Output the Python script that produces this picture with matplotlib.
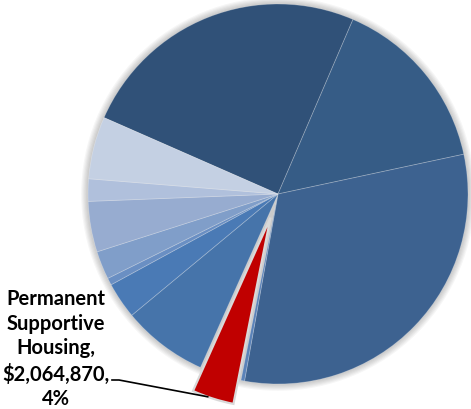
import numpy as np
import matplotlib
matplotlib.use('Agg')
import matplotlib.pyplot as plt
from matplotlib.patches import Circle

# funding amounts per program, in slice order (clockwise from upper left)
amounts = [14400000, 8790000, 18050000, 175000, 2064870, 4220000,
           1790000, 350000, 1390000, 2490000, 1100000, 3070000]
colors = ['#305178', '#365c86', '#3d6290', '#5a82b8', '#c00000', '#4674aa',
          '#4a7ab5', '#6a8fc3', '#809ec9', '#97acd0', '#b0c0dc', '#c4d0e3']
highlight = 4
highlight_name = 'Permanent\nSupportive\nHousing'

W, H = 471, 409
cx, cy, R = 278, 194, 190

fig = plt.figure(figsize=(W / 100, H / 100), dpi=100)
ax = fig.add_axes([0, 0, 1, 1])

# soft outer shadow
for i in range(6):
    ax.add_patch(Circle((0, 0), 1 + (i + 1) * 0.006, color='#000000',
                        alpha=0.035, lw=0, zorder=0))

explode = [0.13 if i == highlight else 0 for i in range(len(amounts))]
wedges, _ = ax.pie(amounts, colors=colors, startangle=156.3, counterclock=False,
                   explode=explode, radius=1,
                   wedgeprops=dict(edgecolor=(1, 1, 1, 0.25), linewidth=0.6))
for w in wedges:
    w.set_zorder(2)
wedges[highlight].set_edgecolor('#d9d9d9')
wedges[highlight].set_linewidth(1.6)

total = sum(amounts)
val = amounts[highlight]
label = f'{highlight_name},\n${val:,},\n{val / total:.0%}'

# leader line from the label to the exploded slice
w = wedges[highlight]
mid = np.deg2rad((w.theta1 + w.theta2) / 2)
ox, oy = w.center
tip = (ox + 0.99 * np.cos(mid) - 0.03, oy + 0.99 * np.sin(mid))
lx, ly = (112 - cx) / R, (cy - 380) / R
ax.plot([lx, lx + 7 / R, tip[0]], [ly, ly, tip[1]], color='black', lw=1.2, zorder=3)

ax.text((56 - cx) / R, (cy - 349) / R, label, ha='center', va='center',
        fontsize=14.5, fontweight='bold', family=['Lato', 'DejaVu Sans'],
        linespacing=1.3, zorder=4)

ax.set_xlim(-cx / R, (W - cx) / R)
ax.set_ylim(-(H - cy) / R, cy / R)
ax.axis('off')

fig.savefig('out.png', dpi=100)
